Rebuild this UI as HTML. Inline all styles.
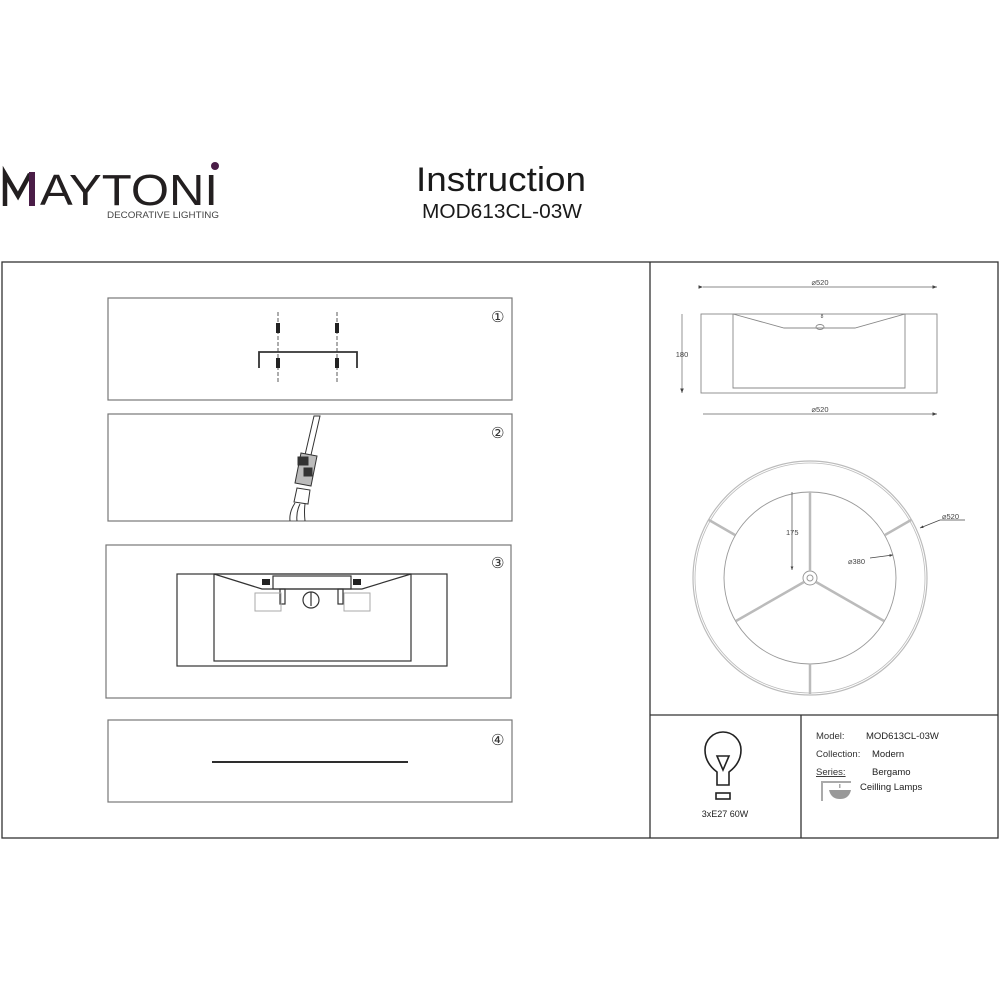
<!DOCTYPE html>
<html><head><meta charset="utf-8"><style>
html,body{margin:0;padding:0;background:#fff;}
svg{display:block;font-family:"Liberation Sans",sans-serif;}
</style></head><body>
<svg width="1000" height="1000" viewBox="0 0 1000 1000" xmlns="http://www.w3.org/2000/svg">
<defs><marker id="ar" markerWidth="6" markerHeight="6" refX="5" refY="3" orient="auto"><path d="M0,1 L5,3 L0,5 Z" fill="#444"/></marker></defs>
<rect width="1000" height="1000" fill="#fff"/>
<!-- logo -->
<path d="M5,206 L5,174 L18,196 L30,174" fill="none" stroke="#231f20" stroke-width="4.5" stroke-linejoin="miter"/>
<rect x="29" y="172" width="6" height="34" fill="#4a1d47"/>
<text x="40" y="205" font-size="44" fill="#231f20" textLength="178" lengthAdjust="spacingAndGlyphs">AYTONI</text>
<circle cx="215" cy="166" r="4" fill="#4a1d47"/>
<text x="107" y="218" font-size="9.5" fill="#444" textLength="112" lengthAdjust="spacingAndGlyphs">DECORATIVE LIGHTING</text>
<!-- title -->
<text x="501" y="191" font-size="34" fill="#1a1a1a" text-anchor="middle" textLength="170" lengthAdjust="spacingAndGlyphs">Instruction</text>
<text x="502" y="218" font-size="20" fill="#1a1a1a" text-anchor="middle" textLength="160" lengthAdjust="spacingAndGlyphs">MOD613CL-03W</text>
<!-- frames -->
<g fill="none" stroke="#333" stroke-width="1.3">
<rect x="2" y="262" width="996" height="576"/>
<line x1="650" y1="262" x2="650" y2="838"/>
<line x1="650" y1="715" x2="998" y2="715"/>
<line x1="801" y1="715" x2="801" y2="838"/>
</g>
<g fill="none" stroke="#777" stroke-width="1.2">
<rect x="108" y="298" width="404" height="102"/>
<rect x="108" y="414" width="404" height="107"/>
<rect x="106" y="545" width="405" height="153"/>
<rect x="108" y="720" width="404" height="82"/>
</g>
<g font-size="15" fill="#333" font-family="'DejaVu Sans',sans-serif">
<text x="491" y="322">①</text><text x="491" y="438">②</text><text x="491" y="568">③</text><text x="491" y="745">④</text>
</g>
<!-- step1 -->
<g stroke="#333" fill="none">
<polyline points="259,368 259,352 357,352 357,368" stroke-width="1.8"/>
<line x1="278" y1="312" x2="278" y2="382" stroke-dasharray="4,2" stroke-width="0.8"/>
<line x1="337" y1="312" x2="337" y2="382" stroke-dasharray="4,2" stroke-width="0.8"/>
</g>
<g fill="#222"><rect x="276" y="323" width="4" height="10"/><rect x="335" y="323" width="4" height="10"/><rect x="276" y="358" width="4" height="10"/><rect x="335" y="358" width="4" height="10"/></g>
<!-- step2 -->
<g stroke="#333" fill="none" stroke-width="1">
<polygon points="314,416 320,416 311,455 305,455"/>
<polygon points="301,453 317,456 311,486 295,483" fill="#bbb"/>
<rect x="298" y="457" width="10" height="8" fill="#333"/><rect x="304" y="468" width="8" height="8" fill="#333"/>
<polygon points="297,488 310,490 308,504 294,502"/>
<path d="M295,503 Q289,512 290,521 M300,504 Q296,512 297,521 M305,504 Q304,512 305,521"/>
</g>
<!-- step3 -->
<g stroke="#333" fill="none" stroke-width="1.2">
<rect x="177" y="574" width="270" height="92"/>
<rect x="214" y="574" width="197" height="87"/>
<polyline points="214,574 262,589 275,589 350,589 362,589 411,574"/>
<rect x="273" y="576" width="78" height="13"/>
<rect x="280" y="589" width="5" height="15"/><rect x="338" y="589" width="5" height="15"/>
<circle cx="311" cy="600" r="8"/><line x1="311" y1="592" x2="311" y2="606"/>
</g>
<g stroke="#aaa" fill="none"><rect x="255" y="593" width="26" height="18"/><rect x="344" y="593" width="26" height="18"/></g>
<rect x="262" y="579" width="8" height="6" fill="#222"/><rect x="353" y="579" width="8" height="6" fill="#222"/>
<!-- step4 -->
<line x1="212" y1="762" x2="408" y2="762" stroke="#111" stroke-width="1.8"/>
<!-- side view -->
<g stroke="#888" fill="none" stroke-width="0.9">
<rect x="701" y="314" width="236" height="79"/>
<polyline points="733,314 733,388 905,388 905,314"/>
<polyline points="733,314 784,328 855,328 905,314"/>
<ellipse cx="820" cy="327" rx="4" ry="2.5"/>
<line x1="703" y1="287" x2="937" y2="287" marker-end="url(#ar)" marker-start="url(#ar)"/>
<line x1="703" y1="414" x2="937" y2="414" marker-end="url(#ar)"/>
<line x1="682" y1="314" x2="682" y2="393" marker-end="url(#ar)"/>
</g>
<g font-size="7.5" fill="#444" text-anchor="middle">
<text x="820" y="285">⌀520</text><text x="820" y="412">⌀520</text><text x="682" y="357">180</text><text x="822" y="318" font-size="5">8</text>
</g>
<!-- top view -->
<g stroke="#bbb" fill="none">
<circle cx="810" cy="578" r="117" stroke-width="1.2"/>
<circle cx="810" cy="578" r="115" stroke-width="0.8"/>
<circle cx="810" cy="578" r="86" stroke="#999" stroke-width="0.9"/>
<circle cx="810" cy="578" r="7" stroke="#999"/>
<circle cx="810" cy="578" r="3" stroke="#999"/>
<g stroke-width="2.5">
<line x1="810" y1="571" x2="810" y2="492"/>
<line x1="804" y1="582" x2="736" y2="621"/>
<line x1="816" y1="582" x2="884" y2="621"/>
<line x1="810" y1="664" x2="810" y2="694"/>
<line x1="735" y1="535" x2="709" y2="520"/>
<line x1="885" y1="535" x2="911" y2="520"/>
</g>
</g>
<g stroke="#444" fill="none" stroke-width="0.7">
<line x1="792" y1="492" x2="792" y2="570" marker-end="url(#ar)"/>
<line x1="870" y1="558" x2="893" y2="555" marker-end="url(#ar)"/>
<line x1="965" y1="520" x2="940" y2="520"/><line x1="940" y1="520" x2="920" y2="528" marker-end="url(#ar)"/>
</g>
<g font-size="7.5" fill="#444"><text x="786" y="535">175</text><text x="848" y="564">⌀380</text><text x="942" y="519">⌀520</text></g>
<!-- bulb -->
<g stroke="#222" fill="none" stroke-width="1.6">
<path d="M717,785 L717,772 Q705,763 705,750 A18,18 0 1 1 741,750 Q741,763 729,772 L729,785 Z"/>
<polygon points="717,756 729,756 723,770"/>
<rect x="716" y="793" width="14" height="6"/>
</g>
<text x="725" y="817" font-size="9" fill="#222" text-anchor="middle">3xE27 60W</text>
<!-- info -->
<g font-size="9.5" fill="#222">
<text x="816" y="739" fill="#333">Model:</text><text x="866" y="739">MOD613CL-03W</text>
<text x="816" y="757" fill="#333">Collection:</text><text x="872" y="757">Modern</text>
<text x="816" y="775" fill="#333" text-decoration="underline">Series:</text><text x="872" y="775">Bergamo</text>
<text x="860" y="790">Ceilling Lamps</text>
</g>
<g fill="#aaa"><rect x="821" y="781" width="2" height="20"/><rect x="821" y="781" width="30" height="2"/>
<path d="M829,790 L851,790 Q849,799 840,799 Q831,799 829,790 Z" fill="#999"/><rect x="839" y="784" width="1.5" height="4"/></g>
</svg>
</body></html>
